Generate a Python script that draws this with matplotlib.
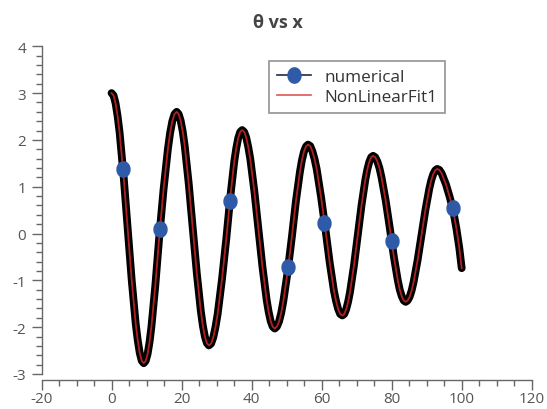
import numpy as np
import matplotlib
matplotlib.use("Agg")
import matplotlib.pyplot as plt
from matplotlib.lines import Line2D
from matplotlib.ticker import MultipleLocator

plt.rcParams['font.family'] = ['Open Sans', 'DejaVu Sans']
plt.rcParams['axes.unicode_minus'] = False

# -------------------------------------------------------------
# data
# -------------------------------------------------------------
x_vals = [0.0, 0.575, 1.15, 1.725, 2.3, 3.45, 4.6,
          5.75, 6.9, 7.475, 8.05, 8.625, 9.2,
          9.75, 10.3, 10.85, 11.4, 12.5, 13.6,
          14.85, 16.1, 16.725, 17.35, 17.975, 18.6,
          19.175, 19.75, 20.325, 20.9, 22.05, 23.2,
          24.35, 25.5, 26.075, 26.65, 27.225, 27.8,
          28.425, 29.05, 29.675, 30.3, 31.55, 32.8,
          33.925, 35.05, 35.61, 36.175, 36.74, 37.3,
          37.88, 38.46, 39.04, 39.63, 40.79, 41.95,
          43.11, 44.28, 44.86, 45.44, 46.02, 46.6,
          47.21, 47.83, 48.44, 49.05, 50.28, 51.5,
          52.65, 53.8, 54.38, 54.95, 55.53, 56.1,
          56.73, 57.35, 57.98, 58.6, 59.85, 61.1,
          62.3, 63.5, 64.1, 64.7, 65.3, 65.9,
          66.45, 67.0, 67.55, 68.1, 69.2, 70.3,
          71.4, 72.5, 73.05, 73.6, 74.15, 74.7,
          75.3, 75.9, 76.5, 77.1, 78.3, 79.5,
          80.63, 81.75, 82.31, 82.88, 83.44, 84.0,
          84.56, 85.13, 85.69, 86.25, 87.38, 88.5,
          89.63, 90.75, 91.31, 91.88, 92.44, 93.0,
          93.6, 94.3, 95.5, 96.5, 97.5, 98.5, 99.3, 100.0]

theta_vals = [3.00, 2.95, 2.78, 2.51, 2.16, 1.22, 0.12,
              -0.99, -1.93, -2.28, -2.55, -2.72, -2.77,
              -2.72, -2.57, -2.32, -1.98, -1.11, -0.09,
              0.94, 1.81, 2.15, 2.40, 2.55, 2.60,
              2.55, 2.41, 2.18, 1.87, 1.06, 0.10,
              -0.85, -1.66, -1.97, -2.20, -2.34, -2.39,
              -2.35, -2.22, -2.00, -1.72, -0.97, -0.09,
              0.79, 1.54, 1.82, 2.04, 2.17, 2.21,
              2.17, 2.05, 1.85, 1.59, 0.90, 0.09,
              -0.72, -1.41, -1.67, -1.87, -1.99, -2.03,
              -1.99, -1.88, -1.70, -1.45, -0.82, -0.07,
              0.69, 1.32, 1.57, 1.75, 1.86, 1.90,
              1.87, 1.76, 1.59, 1.37, 0.77, 0.08,
              -0.62, -1.22, -1.44, -1.61, -1.72, -1.75,
              -1.72, -1.62, -1.46, -1.25, -0.70, -0.05,
              0.61, 1.16, 1.37, 1.53, 1.63, 1.66,
              1.63, 1.54, 1.40, 1.20, 0.70, 0.10,
              -0.50, -1.00, -1.20, -1.34, -1.43, -1.46,
              -1.43, -1.35, -1.22, -1.04, -0.58, -0.04,
              0.50, 0.96, 1.14, 1.27, 1.35, 1.38,
              1.36, 1.28, 1.05, 0.80, 0.52, 0.10, -0.30, -0.74]

# blue markers on the numerical curve
marker_x = [3.3, 13.8, 33.8, 50.5, 60.7, 80.0, 97.5]
marker_theta = [1.38, 0.10, 0.69, -0.71, 0.23, -0.17, 0.55]

blue = '#2f5aa8'
red = '#b02222'
gray = '#555555'

# ellipse shaped marker (a bit taller than wide)
t = np.linspace(0, 2 * np.pi, 40)
ellipse = list(zip(0.85 * np.cos(t), np.sin(t)))

fig = plt.figure(figsize=(5.47, 4.10), dpi=100)
ax = fig.add_axes([0.0759, 0.0854, 0.8962, 0.7993])

# numerical: thick black line + blue markers
ax.plot(x_vals, theta_vals, color='black', lw=5.6, solid_capstyle='round',
        solid_joinstyle='round', zorder=2)
ax.plot(marker_x, marker_theta, ls='none', marker=ellipse, ms=11,
        color=blue, zorder=4)
# fitted curve on top
ax.plot(x_vals, theta_vals, color=red, lw=1.3, zorder=3)

ax.set_xlim(-20, 120)
ax.set_ylim(-3, 4)
ax.xaxis.set_major_locator(MultipleLocator(20))
ax.xaxis.set_minor_locator(MultipleLocator(5))
ax.yaxis.set_major_locator(MultipleLocator(1))
ax.yaxis.set_minor_locator(MultipleLocator(0.2))

for side in ['top', 'right']:
    ax.spines[side].set_visible(False)
for side in ['left', 'bottom']:
    ax.spines[side].set_color('#666666')
    ax.spines[side].set_linewidth(1.0)
ax.spines['bottom'].set_position(('outward', 4))

ax.tick_params(which='major', length=7, width=1.0, color='#666666',
               labelcolor=gray, labelsize=11)
ax.tick_params(which='minor', length=4, width=1.0, color='#666666')
ax.tick_params(axis='x', which='major', pad=1.5)
ax.tick_params(axis='y', which='major', pad=4)

fig.text(278 / 547, 1 - 23 / 410, 'θ vs x', ha='center', va='center',
         fontsize=13, fontweight='bold', color='#444444')

handles = [Line2D([], [], color='#1c2a48', lw=1.2, marker=ellipse, ms=11,
                  markerfacecolor=blue, markeredgecolor=blue),
           Line2D([], [], color='#e05555', lw=1.2)]
leg = ax.legend(handles, ['numerical', 'NonLinearFit1'],
                loc='upper left', bbox_to_anchor=(269 / 547, 1 - 62 / 410),
                bbox_transform=fig.transFigure, fontsize=12.3,
                fancybox=False, frameon=True, handlelength=2.0,
                handletextpad=0.8, labelspacing=0.25, borderpad=0.45,
                borderaxespad=0)
leg.get_frame().set_edgecolor('#777777')
leg.get_frame().set_linewidth(1.2)
for txt in leg.get_texts():
    txt.set_color('#333333')

plt.savefig('out.png', dpi=100)
